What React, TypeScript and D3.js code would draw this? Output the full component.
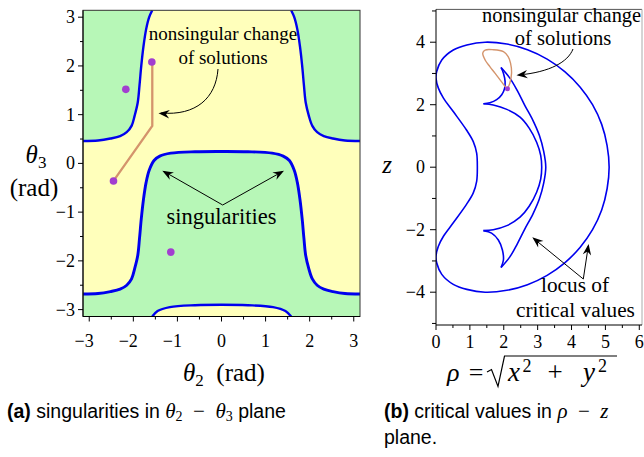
import React from 'react';
import * as d3 from 'd3';

type P = [number, number];
const PI = Math.PI;

// ---------- Panel (a) data: theta2, theta3 ----------
const thetaTicks = [-3, -2, -1, 0, 1, 2, 3];
const thetaMinor = [-2.5, -1.5, -0.5, 0.5, 1.5, 2.5];

const singTopLeft: P[] = [
  [-3.1416, 0.46], [-2.8, 0.47], [-2.52, 0.51], [-2.3, 0.56], [-2.15, 0.64], [-2.04, 0.77],
  [-1.97, 0.98], [-1.9, 1.25], [-1.86, 1.6], [-1.82, 2.0], [-1.77, 2.4], [-1.71, 2.75],
  [-1.64, 3.0], [-1.57, 3.1416],
];
const singTopRight: P[] = [
  [1.58, 3.1416], [1.65, 3.0], [1.72, 2.75], [1.78, 2.4], [1.83, 2.0], [1.87, 1.6],
  [1.91, 1.25], [1.98, 0.98], [2.06, 0.77], [2.17, 0.64], [2.32, 0.56], [2.53, 0.51],
  [2.8, 0.47], [3.1416, 0.46],
];
const singMiddle: P[] = [
  [-3.1416, -2.68], [-2.8, -2.67], [-2.52, -2.63], [-2.3, -2.58], [-2.15, -2.5], [-2.04, -2.37],
  [-1.97, -2.16], [-1.9, -1.89], [-1.86, -1.54], [-1.82, -1.14], [-1.77, -0.74], [-1.71, -0.39],
  [-1.64, -0.14], [-1.53, 0.06], [-1.4, 0.15], [-1.15, 0.21], [-0.6, 0.24], [0, 0.245],
  [0.6, 0.24], [1.15, 0.21], [1.4, 0.15], [1.54, 0.06], [1.65, -0.14], [1.72, -0.39],
  [1.78, -0.74], [1.83, -1.14], [1.87, -1.54], [1.91, -1.89], [1.98, -2.16], [2.06, -2.37],
  [2.17, -2.5], [2.32, -2.58], [2.53, -2.63], [2.8, -2.67], [3.1416, -2.68],
];
const singBottomArch: P[] = [
  [-1.57, -3.1416], [-1.45, -3.03], [-1.17, -2.95], [-0.6, -2.91], [0, -2.9],
  [0.6, -2.91], [1.17, -2.95], [1.45, -3.03], [1.58, -3.1416],
];
const solutionPoints: P[] = [[-1.58, 2.08], [-2.17, 1.52], [-2.45, -0.36], [-1.15, -1.82]];
const changePath: P[] = [[-2.45, -0.36], [-1.57, 0.77], [-1.57, 2.08]];

// ---------- Panel (b) data: rho, z ----------
const rhoTicks = [0, 1, 2, 3, 4, 5, 6];
const rhoMinor = [0.5, 1.5, 2.5, 3.5, 4.5, 5.5];
const zTicks = [-4, -2, 0, 2, 4];
const zMinor = [-5, -3, -1, 1, 3, 5];

const outerLocus: P[] = [
  [1.45, 4.0], [2.09, 3.94], [2.7, 3.76], [3.28, 3.46], [3.8, 3.06], [4.25, 2.57], [4.62, 2.0],
  [4.89, 1.37], [5.05, 0.69], [5.11, 0], [5.05, -0.69], [4.89, -1.37], [4.62, -2.0],
  [4.25, -2.57], [3.8, -3.06], [3.28, -3.46], [2.7, -3.76], [2.09, -3.94], [1.45, -4.0],
  [0.91, -3.91], [0.51, -3.75], [0.17, -3.43], [0.02, -3.06], [0.0, -2.85], [0.07, -2.53],
  [0.22, -2.21], [0.51, -1.78], [0.9, -1.19], [1.1, -0.82], [1.2, -0.45], [1.22, 0],
  [1.2, 0.45], [1.1, 0.82], [0.9, 1.19], [0.51, 1.78], [0.22, 2.21], [0.07, 2.53], [0.0, 2.85],
  [0.02, 3.06], [0.17, 3.43], [0.51, 3.75], [0.91, 3.91],
];
const innerOuterArc: P[] = [
  [1.92, 3.19], [2.18, 2.85], [2.4, 2.45], [2.62, 1.98], [2.86, 1.5], [3.05, 1.02], [3.18, 0.5],
  [3.24, 0], [3.18, -0.5], [3.05, -1.02], [2.86, -1.5], [2.62, -1.98], [2.4, -2.45],
  [2.18, -2.87], [1.92, -3.21],
];
const innerInnerArc: P[] = [
  [1.4, 2.03], [1.69, 1.99], [2.09, 1.85], [2.48, 1.6], [2.75, 1.25], [2.97, 0.8], [3.09, 0.38],
  [3.12, 0], [3.09, -0.38], [2.97, -0.8], [2.75, -1.25], [2.48, -1.6], [2.09, -1.87],
  [1.69, -2.0], [1.4, -2.03],
];
const cuspArcTop: P[] = [
  [1.4, 2.03], [1.59, 2.06], [1.79, 2.16], [1.94, 2.32], [2.02, 2.5], [2.04, 2.74], [1.99, 3.01],
  [1.92, 3.19],
];
const cuspArcBottom: P[] = [
  [1.4, -2.03], [1.64, -2.11], [1.84, -2.33], [1.96, -2.65], [1.99, -2.97], [1.92, -3.21],
];
const changeLoop: P[] = [
  [2.11, 2.51], [2.18, 2.69], [2.23, 3.01], [2.2, 3.33], [2.13, 3.54], [1.99, 3.7], [1.69, 3.76],
  [1.45, 3.75], [1.38, 3.65], [1.45, 3.43], [1.59, 3.22], [1.74, 3.01], [1.93, 2.74],
  [2.04, 2.58], [2.11, 2.51],
];
const solutionPointB: P[] = [[2.11, 2.51]];

// ---------- styling ----------
const GREEN = '#b7f7b7';
const YELLOW = '#ffffbb';
const BLUE = '#0000ee';
const TAN = '#d4946c';
const PURPLE = '#a23ed0';
const SERIF = '"Liberation Serif", "Times New Roman", serif';
const SANS = '"Liberation Sans", Arial, sans-serif';
const TICK_FS = 18;

function arrowHead(x: number, y: number, fromX: number, fromY: number) {
  const a = Math.atan2(y - fromY, x - fromX);
  const L = 11, W = 4.2, N = 7.5;
  const bx = x - L * Math.cos(a), by = y - L * Math.sin(a);
  const nx = x - N * Math.cos(a), ny = y - N * Math.sin(a);
  const px = -Math.sin(a), py = Math.cos(a);
  return `M${x},${y}L${bx + W * px},${by + W * py}L${nx},${ny}L${bx - W * px},${by - W * py}Z`;
}

function TickLabel({ x, y, v, anchor }: { x: number; y: number; v: number; anchor: 'end' | 'middle' }) {
  const s = v < 0 ? '\u2212' + Math.abs(v) : String(v);
  return (
    <text x={x} y={y} textAnchor={anchor} fontFamily={SERIF} fontSize={TICK_FS}>{s}</text>
  );
}

export default function App() {
  const xA = d3.scaleLinear().domain([-PI, PI]).range([83, 360]);
  const yA = d3.scaleLinear().domain([-PI, PI]).range([316.5, 10.3]);
  const xB = d3.scaleLinear().domain([0, 6.08]).range([436, 642]);
  const yB = d3.scaleLinear().domain([-5.05, 5.05]).range([325, 9.4]);

  const lineA = d3.line<P>().x((d) => xA(d[0])).y((d) => yA(d[1])).curve(d3.curveCatmullRom);
  const lineAlin = d3.line<P>().x((d) => xA(d[0])).y((d) => yA(d[1]));
  const lineB = d3.line<P>().x((d) => xB(d[0])).y((d) => yB(d[1])).curve(d3.curveCatmullRom);
  const lineBclosed = d3.line<P>().x((d) => xB(d[0])).y((d) => yB(d[1])).curve(d3.curveCatmullRomClosed);

  const tl = lineA(singTopLeft) + `L${xA(-PI)},${yA(PI)}Z`;
  const tr = lineA(singTopRight) + `L${xA(PI)},${yA(PI)}Z`;
  const mid = lineA(singMiddle) + `L${xA(PI)},${yA(-PI)}L${xA(-PI)},${yA(-PI)}Z`;
  const arch = lineA(singBottomArch) + 'Z';

  const [ax0, ax1] = xA.range();
  const [ay0, ay1] = yA.range();
  const [bx0, bx1] = xB.range();
  const [by0, by1] = yB.range();
  const minusHalf = 0.564 * TICK_FS / 2;

  return (
    <svg width={644} height={457} style={{ position: 'absolute', left: 0, top: 0, background: '#fff' }}>
      <defs>
        <clipPath id="clipA">
          <rect x={ax0} y={ay1} width={ax1 - ax0} height={ay0 - ay1} />
        </clipPath>
        <clipPath id="clipB">
          <rect x={bx0} y={by1} width={bx1 - bx0} height={by0 - by1} />
        </clipPath>
      </defs>

      {/* ================= Panel (a) ================= */}
      <g clipPath="url(#clipA)">
        <rect x={ax0} y={ay1} width={ax1 - ax0} height={ay0 - ay1} fill={YELLOW} />
        <path d={tl} fill={GREEN} />
        <path d={tr} fill={GREEN} />
        <path d={mid} fill={GREEN} />
        <path d={arch} fill={YELLOW} />
        <path d={lineA(singTopLeft)!} fill="none" stroke={BLUE} strokeWidth={2.4} />
        <path d={lineA(singTopRight)!} fill="none" stroke={BLUE} strokeWidth={2.4} />
        <path d={lineA(singMiddle)!} fill="none" stroke={BLUE} strokeWidth={2.9} />
        <path d={lineA(singBottomArch)!} fill="none" stroke={BLUE} strokeWidth={2.4} />
        <path d={lineAlin(changePath)!} fill="none" stroke={TAN} strokeWidth={2.3} />
        {solutionPoints.map((p, i) => (
          <circle key={i} cx={xA(p[0])} cy={yA(p[1])} r={3.8} fill={PURPLE} />
        ))}
      </g>
      <rect x={ax0} y={ay1} width={ax1 - ax0} height={ay0 - ay1} fill="none" stroke="#333" strokeWidth={1} />
      <line x1={ax0} x2={ax0} y1={ay1} y2={ay0} stroke="#000" />
      {thetaTicks.map((t) => (
        <g key={'ly' + t}>
          <line x1={ax0 - 5} x2={ax0} y1={yA(t)} y2={yA(t)} stroke="#000" />
          <TickLabel x={ax0 - 8} y={yA(t) + 6} v={t} anchor="end" />
        </g>
      ))}
      {thetaMinor.map((t) => (
        <line key={'lym' + t} x1={ax0 - 3} x2={ax0} y1={yA(t)} y2={yA(t)} stroke="#000" />
      ))}
      <line x1={ax0} x2={ax1} y1={ay0} y2={ay0} stroke="#000" />
      {thetaTicks.map((t) => (
        <g key={'bx' + t}>
          <line x1={xA(t)} x2={xA(t)} y1={ay0} y2={ay0 + 5} stroke="#000" />
          <TickLabel x={xA(t) - (t < 0 ? minusHalf : 0)} y={346.5} v={t} anchor="middle" />
        </g>
      ))}
      {thetaMinor.map((t) => (
        <line key={'bxm' + t} x1={xA(t)} x2={xA(t)} y1={ay0} y2={ay0 + 3} stroke="#000" />
      ))}
      <text x={224} y={381} textAnchor="middle" fontFamily={SERIF} fontSize={25}>
        <tspan fontStyle="italic">θ</tspan>
        <tspan fontSize={17} dy={5}>2</tspan>
        <tspan dy={-5}>{'\u2002(rad)'}</tspan>
      </text>
      <text x={36} y={163} textAnchor="middle" fontFamily={SERIF} fontSize={25}>
        <tspan fontStyle="italic">θ</tspan>
        <tspan fontSize={17} dy={5}>3</tspan>
      </text>
      <text x={34} y={196} textAnchor="middle" fontFamily={SERIF} fontSize={25}>(rad)</text>

      {/* annotations (a) */}
      <text x={223} y={40} textAnchor="middle" fontFamily={SERIF} fontSize={19}>nonsingular change</text>
      <text x={223} y={64} textAnchor="middle" fontFamily={SERIF} fontSize={19}>of solutions</text>
      <path d="M218,69 C216,98 196,116 161,113" fill="none" stroke="#000" strokeWidth={1} />
      <path d={arrowHead(158.5, 113.3, 170, 114.3)} fill="#000" />
      <text x={221.5} y={224} textAnchor="middle" fontFamily={SERIF} fontSize={22.5}>singularities</text>
      <line x1={222.7} y1={205} x2={164} y2={171.5} stroke="#000" />
      <line x1={222.7} y1={205} x2={282.5} y2={171.5} stroke="#000" />
      <path d={arrowHead(162.3, 170.7, 222.7, 205)} fill="#000" />
      <path d={arrowHead(284, 170.7, 222.7, 205)} fill="#000" />

      {/* ================= Panel (b) ================= */}
      <g clipPath="url(#clipB)">
        <path d={lineBclosed(outerLocus)!} fill="none" stroke={BLUE} strokeWidth={1.6} />
        <path d={lineB(innerOuterArc)!} fill="none" stroke={BLUE} strokeWidth={1.6} />
        <path d={lineB(innerInnerArc)!} fill="none" stroke={BLUE} strokeWidth={1.6} />
        <path d={lineB(cuspArcTop)!} fill="none" stroke={BLUE} strokeWidth={1.6} />
        <path d={lineB(cuspArcBottom)!} fill="none" stroke={BLUE} strokeWidth={1.6} />
        <path d={lineB(changeLoop)!} fill="none" stroke={TAN} strokeWidth={1.4} />
        {solutionPointB.map((p, i) => (
          <circle key={i} cx={xB(p[0])} cy={yB(p[1])} r={2.5} fill={PURPLE} />
        ))}
      </g>
      <line x1={bx0} x2={bx1} y1={by1} y2={by1} stroke="#555" />
      <line x1={bx1} x2={bx1} y1={by1} y2={by0} stroke="#aaa" />
      <line x1={bx0} x2={bx0} y1={by1} y2={by0} stroke="#000" />
      {zTicks.map((t) => (
        <g key={'zy' + t}>
          <line x1={bx0 - 6} x2={bx0} y1={yB(t)} y2={yB(t)} stroke="#000" />
          <TickLabel x={bx0 - 11} y={yB(t) + 6} v={t} anchor="end" />
        </g>
      ))}
      {zMinor.map((t) => (
        <line key={'zym' + t} x1={bx0 - 4} x2={bx0} y1={yB(t)} y2={yB(t)} stroke="#000" />
      ))}
      <line x1={bx0} x2={bx1} y1={by0} y2={by0} stroke="#000" />
      {rhoTicks.map((t) => (
        <g key={'rx' + t}>
          <line x1={xB(t)} x2={xB(t)} y1={by0} y2={by0 + 5} stroke="#000" />
          <TickLabel x={xB(t)} y={347.5} v={t} anchor="middle" />
        </g>
      ))}
      {rhoMinor.map((t) => (
        <line key={'rxm' + t} x1={xB(t)} x2={xB(t)} y1={by0} y2={by0 + 3} stroke="#000" />
      ))}
      <text x={387} y={173} textAnchor="middle" fontFamily={SERIF} fontSize={25} fontStyle="italic">z</text>
      {/* rho label */}
      <text x={447} y={381} fontFamily={SERIF} fontSize={26} fontStyle="italic">ρ</text>
      <text x={476} y={381} textAnchor="middle" fontFamily={SERIF} fontSize={26}>=</text>
      <path d="M487,372 L491.5,369.5 L498,386.5 L504.5,356 L617,356" fill="none" stroke="#000" strokeWidth={1.2} />
      <text x={508} y={381} fontFamily={SERIF} fontSize={27} fontStyle="italic">x</text>
      <text x={522.5} y={371.5} fontFamily={SERIF} fontSize={18}>2</text>
      <text x={555} y={381} textAnchor="middle" fontFamily={SERIF} fontSize={27}>+</text>
      <text x={583} y={381} fontFamily={SERIF} fontSize={27} fontStyle="italic">y</text>
      <text x={598} y={371.5} fontFamily={SERIF} fontSize={18}>2</text>

      {/* annotations (b) */}
      <text x={482} y={22} fontFamily={SERIF} fontSize={20.4}>nonsingular change</text>
      <text x={563} y={45} textAnchor="middle" fontFamily={SERIF} fontSize={20.6}>of solutions</text>
      <path d="M573,49 C568,62 550,72 519,75" fill="none" stroke="#000" strokeWidth={1} />
      <path d={arrowHead(516.5, 75.3, 528, 74)} fill="#000" />
      <text x={575} y={292} textAnchor="middle" fontFamily={SERIF} fontSize={21.3}>locus of</text>
      <text x={575.5} y={316.5} textAnchor="middle" fontFamily={SERIF} fontSize={21.3}>critical values</text>
      <line x1={583.3} y1={279} x2={534} y2={238.8} stroke="#000" />
      <line x1={583.3} y1={279} x2={588.3} y2={246} stroke="#000" />
      <path d={arrowHead(532.3, 237.3, 583.3, 279)} fill="#000" />
      <path d={arrowHead(588.6, 244, 583.3, 279)} fill="#000" />

      {/* captions */}
      <text x={7} y={418} fontFamily={SANS} fontSize={19.5}>
        <tspan fontWeight="bold">(a)</tspan>
        <tspan>{' singularities in '}</tspan>
        <tspan fontFamily={SERIF} fontStyle="italic" fontSize={21}>θ</tspan>
        <tspan fontFamily={SERIF} fontSize={14} dy={3}>2</tspan>
        <tspan fontFamily={SERIF} fontSize={21} dy={-3}>{'\u2002\u2212\u2002'}</tspan>
        <tspan fontFamily={SERIF} fontStyle="italic" fontSize={21}>θ</tspan>
        <tspan fontFamily={SERIF} fontSize={14} dy={3}>3</tspan>
        <tspan dy={-3}>{' plane'}</tspan>
      </text>
      <text x={384} y={418} fontFamily={SANS} fontSize={19.5}>
        <tspan fontWeight="bold">(b)</tspan>
        <tspan>{' critical values in '}</tspan>
        <tspan fontFamily={SERIF} fontStyle="italic" fontSize={21}>ρ</tspan>
        <tspan fontFamily={SERIF} fontSize={21}>{'\u2002\u2212\u2002'}</tspan>
        <tspan fontFamily={SERIF} fontStyle="italic" fontSize={21}>z</tspan>
      </text>
      <text x={384} y={444} fontFamily={SANS} fontSize={19.5}>plane.</text>
    </svg>
  );
}
